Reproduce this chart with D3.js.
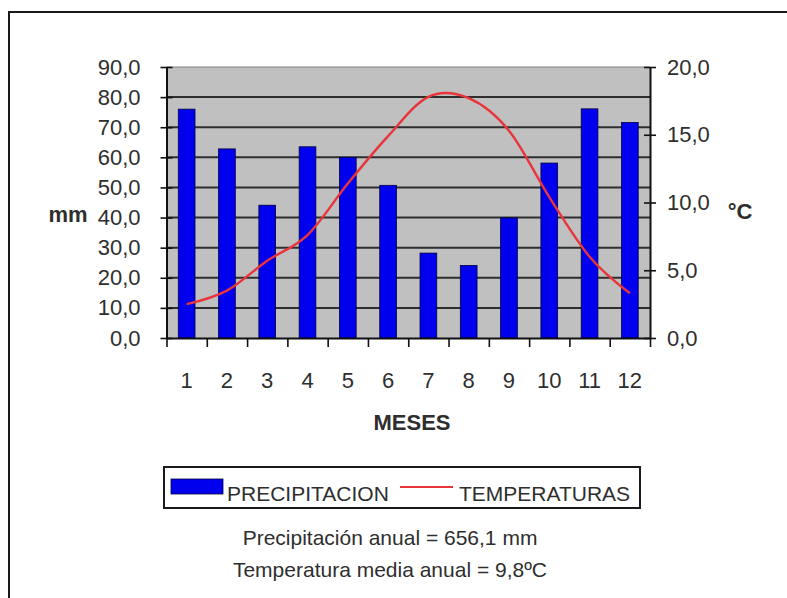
<!DOCTYPE html>
<html>
<head>
<meta charset="utf-8">
<script src="https://cdn.jsdelivr.net/npm/d3@7"></script>
<style>
    html, body { margin: 0; padding: 0; background: #fff; }
    svg { display: block; font-family: "Liberation Sans", Arial, sans-serif; }
</style>
</head>
<body>
<div id="chart"></div>
<script>
// climograma: precipitación (barras) y temperatura (línea)
const months = ['1', '2', '3', '4', '5', '6', '7', '8', '9', '10', '11', '12'];
const precipitation = [76.0, 62.8, 44.1, 63.5, 60.0, 50.7, 28.2, 24.1, 39.9, 58.1, 76.1, 71.6];
const temperature = [2.5, 3.5, 5.7, 7.6, 11.4, 14.9, 17.8, 17.7, 15.3, 10.4, 6.0, 3.3];
const precipTicks = [0, 10, 20, 30, 40, 50, 60, 70, 80, 90];
const tempTicks = [0, 5, 10, 15, 20];
const legendItems = ['PRECIPITACION', 'TEMPERATURAS'];
const summaryLines = ['Precipitación anual = 656,1 mm', 'Temperatura media anual = 9,8ºC'];

const width = 787;
const height = 598;
const plot = { left: 166.5, right: 650, top: 67, bottom: 338 };
const textColor = '#2e2e2e';
const fmt = (d) => d.toFixed(1).replace('.', ',');

const svg = d3.select('#chart')
    .append('svg')
    .attr('width', width)
    .attr('height', height);

// outer frame (runs off the right and bottom edges)
svg.append('rect')
    .attr('x', 9)
    .attr('y', 12)
    .attr('width', 800)
    .attr('height', 600)
    .attr('fill', 'none')
    .attr('stroke', '#1a1a1a')
    .attr('stroke-width', 2);

const x = d3.scaleBand()
    .domain(months)
    .range([plot.left, plot.right])
    .padding(0);

const xEdges = d3.scaleLinear()
    .domain([0, months.length])
    .range([plot.left, plot.right]);

const yP = d3.scaleLinear().domain([0, 90]).range([plot.bottom, plot.top]);
const yT = d3.scaleLinear().domain([0, 20]).range([plot.bottom, plot.top]);

// plot background
svg.append('rect')
    .attr('x', plot.left)
    .attr('y', plot.top)
    .attr('width', plot.right - plot.left)
    .attr('height', plot.bottom - plot.top)
    .attr('fill', '#c0c0c0');

svg.append('line')
    .attr('x1', plot.left)
    .attr('x2', plot.right)
    .attr('y1', yP(90))
    .attr('y2', yP(90))
    .attr('stroke', '#808080')
    .attr('stroke-width', 1.2);

// gridlines
svg.append('g')
    .selectAll('line')
    .data(precipTicks.filter((d) => d > 0 && d < 90))
    .join('line')
    .attr('x1', plot.left)
    .attr('x2', plot.right)
    .attr('y1', (d) => yP(d))
    .attr('y2', (d) => yP(d))
    .attr('stroke', '#2e2e2e')
    .attr('stroke-width', 2);

// bars
const barWidth = x.bandwidth() * 0.415;
svg.append('g')
    .selectAll('rect')
    .data(precipitation)
    .join('rect')
    .attr('x', (d, i) => x(months[i]) + (x.bandwidth() - barWidth) / 2)
    .attr('y', (d) => yP(d))
    .attr('width', barWidth)
    .attr('height', (d) => yP(0) - yP(d))
    .attr('fill', '#0000ee')
    .attr('stroke', '#00003a')
    .attr('stroke-width', 0.8);

// temperature line
const line = d3.line()
    .x((d, i) => x(months[i]) + x.bandwidth() / 2)
    .y((d) => yT(d))
    .curve(d3.curveCardinal.tension(0));

svg.append('path')
    .datum(temperature)
    .attr('d', line)
    .attr('fill', 'none')
    .attr('stroke', '#e8343a')
    .attr('stroke-width', 2.4);

// axes
const styleAxis = (g, size) => {
    g.select('.domain').attr('stroke', '#111').attr('stroke-width', 2);
    g.selectAll('.tick line').attr('stroke', '#111').attr('stroke-width', 1.6);
    g.selectAll('.tick text')
        .attr('fill', textColor)
        .style('font-size', size + 'px');
};

const leftAxis = svg.append('g')
    .attr('transform', `translate(${plot.left},0)`)
    .call(d3.axisLeft(yP).tickValues(precipTicks).tickFormat(fmt).tickSizeInner(6).tickSizeOuter(0).tickPadding(20));
leftAxis.selectAll('.tick line').attr('x1', 6);
styleAxis(leftAxis, 22);

const rightAxis = svg.append('g')
    .attr('transform', `translate(${plot.right},0)`)
    .call(d3.axisRight(yT).tickValues(tempTicks).tickFormat(fmt).tickSizeInner(6).tickSizeOuter(0).tickPadding(11));
rightAxis.selectAll('.tick line').attr('x1', -6);
styleAxis(rightAxis, 22);

const bottomTicks = svg.append('g')
    .attr('transform', `translate(0,${plot.bottom})`)
    .call(d3.axisBottom(xEdges).tickValues(d3.range(months.length + 1)).tickFormat('').tickSizeInner(9).tickSizeOuter(0));
styleAxis(bottomTicks, 22);

const bottomLabels = svg.append('g')
    .attr('transform', `translate(0,${plot.bottom})`)
    .call(d3.axisBottom(x).tickSize(0).tickPadding(34));
bottomLabels.select('.domain').remove();
styleAxis(bottomLabels, 22);

// axis titles
svg.append('text')
    .attr('x', 68)
    .attr('y', 222)
    .attr('text-anchor', 'middle')
    .attr('font-weight', 'bold')
    .attr('font-size', 22)
    .attr('fill', textColor)
    .text('mm');

svg.append('text')
    .attr('x', 740)
    .attr('y', 219)
    .attr('text-anchor', 'middle')
    .attr('font-weight', 'bold')
    .attr('font-size', 22)
    .attr('fill', textColor)
    .text('°C');

svg.append('text')
    .attr('x', 412)
    .attr('y', 430)
    .attr('text-anchor', 'middle')
    .attr('font-weight', 'bold')
    .attr('font-size', 22)
    .attr('fill', textColor)
    .text('MESES');

// legend
const legend = svg.append('g');
legend.append('rect')
    .attr('x', 164)
    .attr('y', 467)
    .attr('width', 476)
    .attr('height', 41)
    .attr('fill', '#fff')
    .attr('stroke', '#1a1a1a')
    .attr('stroke-width', 2);

legend.append('rect')
    .attr('x', 171)
    .attr('y', 479)
    .attr('width', 52)
    .attr('height', 15)
    .attr('fill', '#0000ee')
    .attr('stroke', '#00003a')
    .attr('stroke-width', 0.8);

legend.append('line')
    .attr('x1', 400)
    .attr('x2', 453)
    .attr('y1', 487)
    .attr('y2', 487)
    .attr('stroke', '#e8343a')
    .attr('stroke-width', 2);

legend.selectAll('text')
    .data(legendItems)
    .join('text')
    .attr('x', (d, i) => (i === 0 ? 227 : 459))
    .attr('y', 501)
    .attr('font-size', 21)
    .attr('fill', textColor)
    .text((d) => d);

// annual summary
svg.append('g')
    .selectAll('text')
    .data(summaryLines)
    .join('text')
    .attr('x', 390)
    .attr('y', (d, i) => 545 + i * 32)
    .attr('text-anchor', 'middle')
    .attr('font-size', 21)
    .attr('fill', textColor)
    .text((d) => d);
</script>
</body>
</html>
